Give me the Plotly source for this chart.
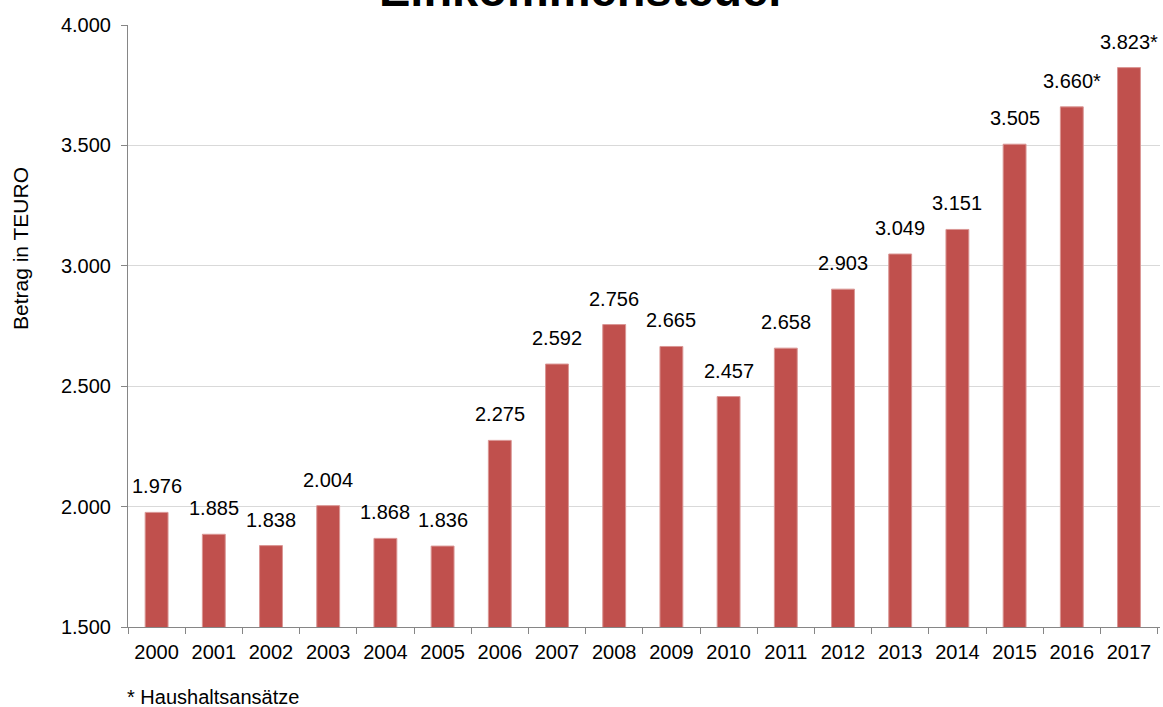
import plotly.graph_objects as go

years = ["2000", "2001", "2002", "2003", "2004", "2005", "2006", "2007", "2008",
         "2009", "2010", "2011", "2012", "2013", "2014", "2015", "2016", "2017"]
values = [1976, 1885, 1838, 2004, 1868, 1836, 2275, 2592, 2756,
          2665, 2457, 2658, 2903, 3049, 3151, 3505, 3660, 3823]
budget_flag = [False] * 16 + [True, True]
y_ticks = [1500, 2000, 2500, 3000, 3500, 4000]

title_text = "Einkommensteuer"
y_title = "Betrag in TEURO"
footnote = "* Haushaltsansätze"

FONT = "Liberation Sans, Arial, Helvetica, sans-serif"

labels = [f"{v:,}".replace(",", ".") + ("*" if f else "") for v, f in zip(values, budget_flag)]

fig = go.Figure()
fig.add_trace(go.Bar(
    x=years, y=values,
    marker=dict(color="#C0504D", line=dict(color="#DA9694", width=1)),
    hoverinfo="x+y",
))

annotations = []
for i, (v, lab) in enumerate(zip(values, labels)):
    annotations.append(dict(x=i, y=v, text=lab, xref="x", yref="y",
                            showarrow=False, yanchor="bottom", yshift=13,
                            font=dict(size=20, color="#000000", family=FONT)))

W, H = 1163, 707
ml, mr, mt, mb = 128, 3, 25, 80
pw, ph = W - ml - mr, H - mt - mb


def px_to_paper(px, py):
    return (px - ml) / pw, 1 - (py - mt) / ph


tx, ty = px_to_paper(582, -10)
annotations.append(dict(x=tx, xref="paper", y=ty, yref="paper", text="<b>" + title_text + "</b>",
                        showarrow=False, yanchor="middle", xanchor="center",
                        font=dict(size=47, color="#000000", family=FONT)))
ax_, ay_ = px_to_paper(20, 249)
annotations.append(dict(x=ax_, xref="paper", y=ay_, yref="paper", text=y_title,
                        showarrow=False, textangle=-90, xanchor="center", yanchor="middle",
                        font=dict(size=21, color="#000000", family=FONT)))
fx, fy = px_to_paper(125, 697)
annotations.append(dict(x=fx, xref="paper", y=fy, yref="paper", text=footnote, showarrow=False,
                        xanchor="left", yanchor="middle",
                        font=dict(size=20, color="#000000", family=FONT)))

fig.update_layout(
    width=W, height=H,
    margin=dict(l=ml, r=mr, t=mt, b=mb, pad=0),
    paper_bgcolor="white", plot_bgcolor="white",
    separators=",.",
    bargap=0.6,
    showlegend=False,
    font=dict(family=FONT, size=20, color="#000000"),
    annotations=annotations,
    xaxis=dict(type="category", showline=True, linecolor="#868686", linewidth=1,
               ticks="outside", ticklen=6, tickcolor="#868686", tickson="boundaries",
               showgrid=False, tickangle=0, ticklabelstandoff=7,
               tickfont=dict(size=20, family=FONT, color="#000000")),
    yaxis=dict(range=[1500, 4000], tickvals=y_ticks, tickformat=",.0f",
               showline=True, linecolor="#868686", linewidth=1,
               ticks="outside", ticklen=6, tickcolor="#868686",
               showgrid=True, gridcolor="#D9D9D9", gridwidth=1, zeroline=False,
               ticklabelstandoff=6,
               tickfont=dict(size=20, family=FONT, color="#000000")),
)

fig.write_html("out.html")
